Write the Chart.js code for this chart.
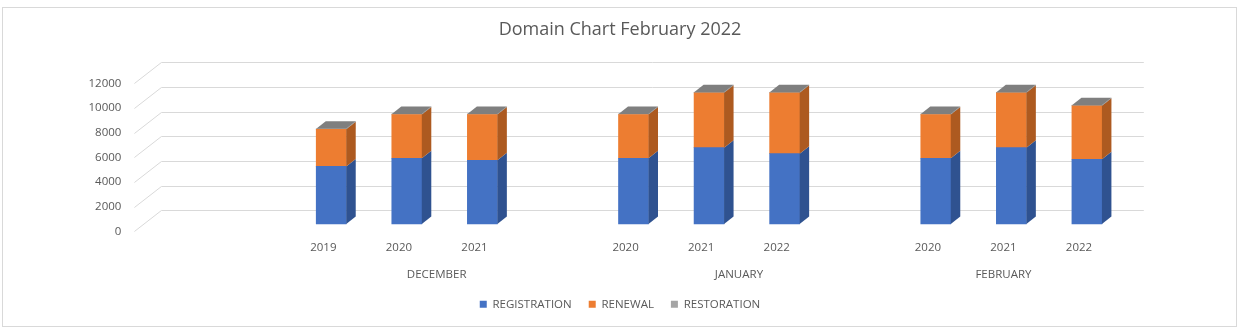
<!DOCTYPE html>
<html>
<head>
<meta charset="utf-8">
<title>Domain Chart February 2022</title>
<script src="https://cdn.jsdelivr.net/npm/chart.js@4"></script>
<style>
    html, body { margin: 0; padding: 0; background: #ffffff; }
    #wrap { position: relative; width: 1240px; height: 330px; }
    #frame { position: absolute; left: 2px; top: 7px; width: 1233px; height: 318px; border: 1px solid #d9d9d9; pointer-events: none; }
</style>
</head>
<body>
<div id="wrap">
    <canvas id="domainChart" width="1240" height="330"></canvas>
    <div id="frame"></div>
</div>
<script>
// Year categories (blank slots separate the month groups)
const years = ['', '', '2019', '2020', '2021', '', '2020', '2021', '2022', '', '2020', '2021', '2022'];

// Month groups: label and first/last category index they span
const months = ['', 'DECEMBER', 'JANUARY', 'FEBRUARY'];
const monthFirst = [0, 2, 6, 10];
const monthLast = [1, 5, 9, 12];

// Series values
const registration = [null, null, 4670, 5330, 5160, null, 5330, 6190, 5700, null, 5330, 6190, 5250];
const renewal = [null, null, 3010, 3550, 3720, null, 3550, 4450, 4940, null, 3550, 4450, 4340];
const restoration = [null, null, 40, 40, 40, null, 40, 40, 40, null, 40, 40, 40];

const yTicks = [0, 2000, 4000, 6000, 8000, 10000, 12000];

const textColor = '#595959';
const gridColor = '#d9d9d9';
const fontFamily = '"Open Sans", "Liberation Sans", sans-serif';

// 3D look: wall depth and column depth offsets
const wallDepth = { dx: 27, dy: -21 };
const barShift = { dx: 7.9, dy: -7.3 };
const barDepth = { dx: 9.5, dy: -7.5 };

const seriesColors = [
    { front: '#4472c4', side: '#2f5290', top: '#3a62a8' },
    { front: '#ed7d31', side: '#ad5a20', top: '#c96a29' },
    { front: '#a5a5a5', side: '#6f6f6f', top: '#7f7f7f' },
];

// Draws the floor/back-wall gridlines and the depth faces of each column
const threeDPlugin = {
    id: 'threeD',
    beforeDatasetsDraw(chart) {
        const { ctx, chartArea } = chart;
        const yScale = chart.scales.y;
        ctx.save();
        ctx.strokeStyle = gridColor;
        ctx.lineWidth = 1;
        yScale.ticks.forEach(t => {
            const py = Math.round(yScale.getPixelForValue(t.value)) + 0.5;
            ctx.beginPath();
            ctx.moveTo(chartArea.left, py);
            ctx.lineTo(chartArea.left + wallDepth.dx, py + wallDepth.dy);
            ctx.lineTo(chartArea.right + wallDepth.dx, py + wallDepth.dy);
            ctx.stroke();
        });
        ctx.restore();

        ctx.save();
        ctx.translate(barShift.dx, barShift.dy);
    },
    afterDatasetsDraw(chart) {
        const { ctx } = chart;
        const metas = chart.data.datasets.map((d, i) => chart.getDatasetMeta(i));
        const count = chart.data.labels.length;
        for (let i = 0; i < count; i++) {
            let topBar = null, topIdx = -1;
            metas.forEach((meta, di) => {
                const v = chart.data.datasets[di].data[i];
                if (v === null || v === undefined) return;
                const bar = meta.data[i];
                const { x, y, base, width } = bar.getProps(['x', 'y', 'base', 'width'], true);
                const r = x + width / 2;
                ctx.fillStyle = seriesColors[di].side;
                ctx.beginPath();
                ctx.moveTo(r, y);
                ctx.lineTo(r + barDepth.dx, y + barDepth.dy);
                ctx.lineTo(r + barDepth.dx, base + barDepth.dy);
                ctx.lineTo(r, base);
                ctx.closePath();
                ctx.fill();
                topBar = { x, y, width };
                topIdx = di;
            });
            if (topBar) {
                const l = topBar.x - topBar.width / 2;
                const r = topBar.x + topBar.width / 2;
                ctx.fillStyle = seriesColors[topIdx].top;
                ctx.beginPath();
                ctx.moveTo(l, topBar.y);
                ctx.lineTo(r, topBar.y);
                ctx.lineTo(r + barDepth.dx, topBar.y + barDepth.dy);
                ctx.lineTo(l + barDepth.dx, topBar.y + barDepth.dy);
                ctx.closePath();
                ctx.fill();
            }
        }
        ctx.restore();
    },
    afterDraw(chart) {
        // second row of category labels: the month of each group
        const { ctx } = chart;
        const xScale = chart.scales.x;
        ctx.save();
        ctx.fillStyle = textColor;
        ctx.font = '11.5px ' + fontFamily;
        ctx.textAlign = 'center';
        ctx.textBaseline = 'middle';
        months.forEach((m, i) => {
            if (!m) return;
            const px = (xScale.getPixelForValue(monthFirst[i]) + xScale.getPixelForValue(monthLast[i])) / 2;
            ctx.fillText(m, px, xScale.top + 43);
        });
        ctx.restore();
    }
};

const ctx = document.getElementById('domainChart');

new Chart(ctx, {
    type: 'bar',
    data: {
        labels: years,
        datasets: [
            { label: 'REGISTRATION', data: registration, backgroundColor: seriesColors[0].front, clip: false },
            { label: 'RENEWAL', data: renewal, backgroundColor: seriesColors[1].front, clip: false },
            { label: 'RESTORATION', data: restoration, backgroundColor: seriesColors[2].front, clip: false },
        ],
    },
    options: {
        responsive: false,
        animation: false,
        events: [],
        layout: { padding: { left: 0, right: 0, top: 0, bottom: 10 } },
        datasets: { bar: { barThickness: 30, categoryPercentage: 1, barPercentage: 1 } },
        scales: {
            x: {
                stacked: true,
                offset: true,
                grid: { display: false, drawTicks: false },
                border: { display: false },
                ticks: { color: textColor, font: { family: fontFamily, size: 11.5 }, padding: 10, autoSkip: false, maxRotation: 0 },
                afterFit: s => { s.height = 50.2; },
            },
            y: {
                stacked: true,
                min: 0,
                max: 12000,
                grid: { display: false, drawTicks: false },
                border: { display: false },
                afterBuildTicks: s => { s.ticks = yTicks.map(v => ({ value: v })); },
                ticks: { color: textColor, font: { family: fontFamily, size: 11.5 }, padding: 13, callback: v => String(v) },
                afterFit: s => { s.width = 134.4; },
            },
            yPad: {
                position: 'right',
                display: true,
                grid: { display: false, drawTicks: false },
                border: { display: false },
                ticks: { display: false },
                afterFit: s => { s.width = 123.2; },
            },
        },
        plugins: {
            title: {
                display: true,
                text: 'Domain Chart February 2022',
                color: textColor,
                font: { family: fontFamily, size: 18, weight: 'normal' },
                padding: { top: 19.2, bottom: 42.5 },
            },
            legend: {
                position: 'bottom',
                labels: { color: textColor, font: { family: fontFamily, size: 11.5 }, boxWidth: 7, boxHeight: 7, padding: 17 },
            },
            tooltip: { enabled: false },
        },
    },
    plugins: [threeDPlugin],
});
</script>
</body>
</html>
